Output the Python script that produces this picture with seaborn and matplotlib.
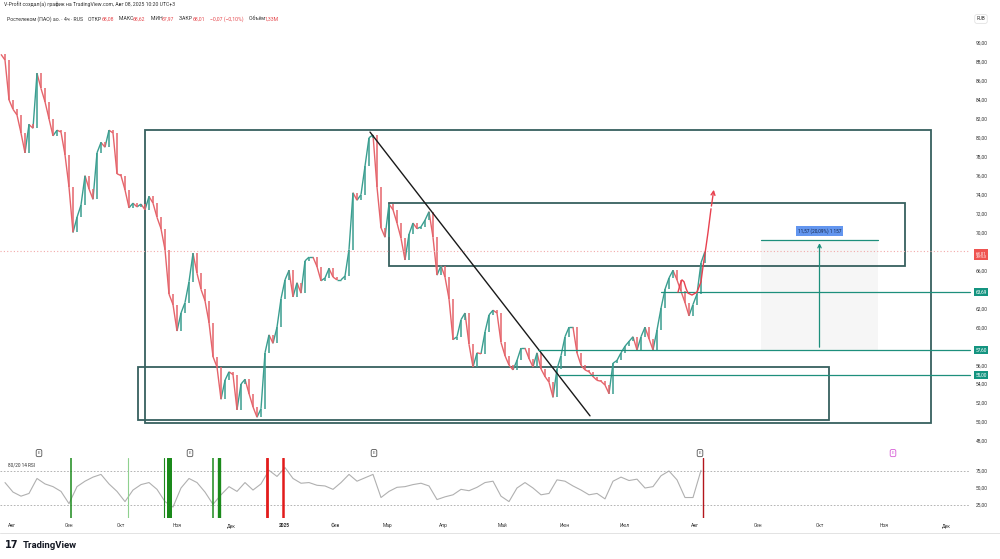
import matplotlib
matplotlib.use("Agg")

import numpy as np
import pandas as pd
import seaborn as sns
import matplotlib.pyplot as plt
import matplotlib.transforms as mtransforms
from matplotlib.patches import Rectangle
from matplotlib.lines import Line2D
from matplotlib.collections import LineCollection

# ---- data (x axis = bar number, one bar ~ 1.5 sessions) ----
close = [
    88.2, 84.0, 83.0, 82.4, 80.5, 78.4, 81.4, 81.0, 86.8, 85.2,
    83.8, 82.0, 80.2, 80.8, 80.6, 78.2, 74.8, 70.0, 71.6, 72.9,
    76.0, 74.6, 73.5, 78.4, 79.5, 79.0, 80.8, 80.5, 76.2, 76.0,
    74.5, 72.6, 73.1, 72.7, 73.0, 72.4, 73.8, 73.1, 71.6, 70.4,
    68.2, 63.5, 62.4, 59.6, 61.5, 62.6, 64.8, 67.8, 65.7, 64.0,
    62.8, 60.5, 56.9, 55.8, 52.4, 54.4, 55.3, 55.0, 51.3, 54.0,
    54.5, 53.0, 51.6, 50.5, 51.4, 57.3, 59.2, 58.3, 60.0, 63.0,
    65.0, 66.0, 63.2, 64.7, 63.6, 67.0, 67.4, 67.4, 66.4, 64.9,
    65.2, 66.2, 65.3, 65.0, 65.0, 65.4, 68.2, 74.2, 73.4, 74.0,
    77.0, 80.0, 80.3, 74.8, 70.5, 69.5, 73.0, 72.4, 71.0, 69.4,
    67.1, 69.8, 71.0, 70.4, 70.6, 71.3, 72.2, 69.5, 65.5, 66.5,
    65.3, 63.0, 58.7, 59.0, 60.8, 61.5, 58.2, 55.8, 57.3, 57.2,
    59.5, 61.3, 61.8, 61.5, 58.4, 57.0, 56.0, 55.5, 56.5, 57.8,
    57.8, 56.7, 55.8, 57.3, 55.6, 54.8, 54.2, 52.6, 55.6, 57.0,
    59.0, 60.0, 60.0, 57.3, 56.0, 55.5, 55.3, 54.8, 54.4, 54.3,
    53.9, 53.0, 56.2, 56.5, 57.3, 58.0, 58.5, 59.0, 57.6, 59.0,
    60.0, 58.8, 57.6, 59.7, 62.0, 64.0, 65.2, 66.0, 65.0, 63.8,
    62.6, 61.2, 62.4, 63.5, 66.8, 68.0,
]
first_open = 88.8

# RSI(14), read every second bar
rsi = [
    58, 44, 38, 42, 64, 56, 52, 45, 27, 52,
    60, 66, 70, 56, 45, 30, 47, 55, 58, 48,
    30, 22, 50, 64, 58, 44, 26, 40, 52, 45,
    58, 47, 56, 76, 67, 80, 64, 57, 58, 54,
    53, 48, 58, 70, 60, 65, 70, 36, 45, 51,
    52, 55, 57, 53, 33, 37, 40, 48, 46, 51,
    58, 60, 38, 30, 50, 58, 50, 40, 42, 62,
    60, 53, 47, 40, 42, 34, 60, 66, 61, 63,
    50, 52, 68, 75, 62, 36, 36, 76,
]

month_pos = [1.75, 16, 29, 43, 56.5, 69.75, 82.5, 95.5, 109.5, 124.5,
             140, 155, 172.5, 188.25, 203.75, 219.75, 235.25]
month_lbl = ["Авг", "Сен", "Окт", "Ноя", "Дек", "2025", "Фев", "Мар", "Апр", "Май",
             "Июн", "Июл", "Авг", "Сен", "Окт", "Ноя", "Дек"]

# RSI 80/20 signal bars
signal_bar = [16.5, 30.75, 39.75, 41.1, 52, 53.6, 65.5, 69.5, 174.5]
signal_kind = ["buy", "buy_light", "buy", "buy", "buy", "buy", "sell", "sell", "sell_last"]

# earnings markers
earn_bar = [8.5, 46.25, 92.25, 173.75, 222]

# drawings
boxes = [  # (bar0, bar1, low, high)
    (35, 231.5, 49.9, 80.8),
    (96, 225, 66.45, 73.1),
    (33.25, 206, 50.2, 55.8),
]
trend = ([91.25, 146.25], [80.6, 50.65])
levels = [63.69, 57.60, 55.00]
level_start = [164, 133.25, 138.75]
last_price = 68.01
measure = (189, 218.25, 57.60, 69.17)
path_bar = [168.25, 168.75, 169.25, 169.75, 170.25, 170.75, 171.75, 173, 174, 174.5,
            175.25, 175.75, 176.5, 177.3]
path_price = [63.7, 64.5, 65.0, 64.8, 64.1, 63.6, 63.4, 63.7, 64.8, 66.4,
              68.5, 70.0, 72.5, 74.8]
price_ticks = list(range(48, 91, 2))
rsi_ticks = [25, 50, 75]

# ---- style ----
sns.set_theme(style="white")
plt.rcParams["font.family"] = ["Roboto", "DejaVu Sans"]

W, H = 1000, 559
GREEN = "#3a9e90"
RED = "#e5646b"
BOX = "#37605f"
TEAL = "#1d8f7c"
TXT = "#333333"


def fx(px):
    return px / W


def fy(py):
    return 1 - py / H


def fmt(v):
    return f"{v:.2f}".replace(".", ",")


fig = plt.figure(figsize=(W / 100, H / 100), dpi=100)
ax = fig.add_axes([0, fy(458), fx(970), (458 - 12) / H])
ax_rsi = fig.add_axes([0, fy(518), fx(970), (518 - 458) / H])

# ---- candles: body from previous close, joined as a thin zig-zag ----
df = pd.DataFrame({"bar": np.arange(len(close)), "close": close})
df["open"] = df["close"].shift(1).fillna(first_open)
df["prev_bar"] = df["bar"] - 1
up = df["close"] >= df["open"]
colors = np.where(up, GREEN, RED)
segs = [[(pb, o), (b, c)] for pb, o, b, c in
        zip(df["prev_bar"], df["open"], df["bar"], df["close"])]
ax.add_collection(LineCollection(segs, colors=colors, lw=1.0))
ax.vlines(df["bar"], df["open"], df["close"], colors=colors, lw=1.1)

# ---- drawings ----
for b0, b1, lo, hi in boxes:
    ax.add_patch(Rectangle((b0, lo), b1 - b0, hi - lo, fill=False, ec=BOX, lw=1.3))
ax.plot(trend[0], trend[1], color="#1a1a1a", lw=1.0)

x_right = 241.25
for lvl, st in zip(levels, level_start):
    ax.plot([st, x_right], [lvl, lvl], color=TEAL, lw=0.9, clip_on=False)
ax.axhline(last_price, color="#f2a9a9", lw=0.8, ls=(0, (1, 2)))

mb0, mb1, mlo, mhi = measure
ax.add_patch(Rectangle((mb0, mlo), mb1 - mb0, mhi - mlo, fc="#f6f6f6", ec="none", zorder=0))
ax.plot([mb0, mb1], [mhi, mhi], color=TEAL, lw=0.9)
mid = (mb0 + mb1) / 2
ax.annotate("", xy=(mid, mhi), xytext=(mid, mlo),
            arrowprops=dict(arrowstyle="->", color=TEAL, lw=0.9, mutation_scale=6))
ax.annotate(f"{fmt(mhi - mlo)} ({fmt((mhi - mlo) / mlo * 100)}%) 1 157",
            xy=(mid, mhi), xytext=(0, 7), textcoords="offset points",
            ha="center", va="center", fontsize=3.4, color="#14264a",
            bbox=dict(boxstyle="square,pad=0.45", fc="#6396ef", ec="none"))

ax.plot(path_bar[:-1], path_price[:-1], color="#e8414f", lw=1.0)
ax.annotate("", xy=(path_bar[-1], path_price[-1]), xytext=(path_bar[-2], path_price[-2]),
            arrowprops=dict(arrowstyle="->", color="#e8414f", lw=1.0, mutation_scale=7))

# earnings "E" markers
etr = mtransforms.blended_transform_factory(ax.transData, ax.transAxes)
for i, b in enumerate(earn_bar):
    c = "#d65cd6" if i == len(earn_bar) - 1 else "#555555"
    ax.text(b, 0.011, "E", transform=etr, ha="center", va="center", fontsize=3.2, color=c,
            bbox=dict(boxstyle="round,pad=0.35", fc="white", ec=c, lw=0.6))

ax.set_xlim(-1.25, x_right)
ax.set_ylim(46.2, 93.27)
ax.yaxis.tick_right()
# tick labels hidden under the coloured price labels
covered = [v for v in price_ticks
           if min(abs(v - p) for p in levels + [last_price]) < 0.8]
ax.set_yticks(price_ticks, ["" if v in covered else fmt(v) for v in price_ticks])
ax.tick_params(axis="y", length=0, pad=4, labelsize=3.5, labelcolor=TXT)
ax.set_xticks([])
for s in ax.spines.values():
    s.set_visible(False)

# right-side price labels
ltr = mtransforms.blended_transform_factory(fig.transFigure, ax.transData)
for lvl in levels:
    ax.text(fx(981), lvl, fmt(lvl), transform=ltr, ha="center",
            va="center", fontsize=3.4, color="white", clip_on=False,
            bbox=dict(boxstyle="square,pad=0.3", fc="#149480", ec="none"))
ax.annotate(fmt(last_price) + "\n39:53", xy=(fx(981), last_price),
            xycoords=ltr, xytext=(0, -2.5), textcoords="offset points", ha="center",
            va="center", fontsize=3.2, color="white", linespacing=1.1, annotation_clip=False,
            bbox=dict(boxstyle="square,pad=0.3", fc="#ef5350", ec="none"))

# ---- RSI panel ----
rsi_df = pd.DataFrame({"bar": np.arange(0, 2 * len(rsi), 2), "rsi": rsi})
sns.lineplot(data=rsi_df, x="bar", y="rsi", ax=ax_rsi, color="#b0b0b0", lw=0.8)
for lv in (75, 25):
    ax_rsi.axhline(lv, color="#a8a8a8", lw=0.6, ls=(0, (2, 2)))

sig_style = {
    "buy": "#1b8a1b",
    "buy_light": "#8fd18f",
    "sell": "#e21b1b",
    "sell_last": "#b3151c",
}
sig_width = [1.1, 0.8, 0.8, 3.6, 1.1, 2.4, 2.0, 1.8, 1.0]
for b, k, w in zip(signal_bar, signal_kind, sig_width):
    ax_rsi.axvline(b, color=sig_style[k], lw=w)

ax_rsi.set_xlim(-1.25, x_right)
ax_rsi.set_ylim(5.9, 94.1)
ax_rsi.yaxis.tick_right()
ax_rsi.set_yticks(rsi_ticks, [fmt(v) for v in rsi_ticks])
ax_rsi.set_xticks(month_pos, month_lbl)
ax_rsi.tick_params(axis="both", length=0, labelsize=3.5, labelcolor=TXT)
ax_rsi.tick_params(axis="y", pad=4)
ax_rsi.tick_params(axis="x", pad=6.5)
for t in ax_rsi.get_xticklabels():
    t.set_va("baseline")
    if t.get_text() == "2025":
        t.set_fontweight("bold")
ax_rsi.set_xlabel("")
ax_rsi.set_ylabel("")
for s in ax_rsi.spines.values():
    s.set_visible(False)
ax_rsi.text(0.008, 0.88, "80/20 14 RSI", transform=ax_rsi.transAxes, fontsize=3.4,
            color=TXT, va="center")

# ---- header / footer ----
renderer = fig.canvas.get_renderer()


def put_row(pieces, x0, y0, size):
    x = x0
    for s, c in pieces:
        t = fig.text(x, y0, s, color=c, fontsize=size, va="center", ha="left")
        bb = t.get_window_extent(renderer=renderer)
        x = bb.x1 / fig.bbox.width


fig.text(fx(4), fy(5), "V-Profit создал(а) график на TradingView.com, Авг 08, 2025 10:20 UTC+3",
         fontsize=3.7, color=TXT, va="center")
R = "#e5484d"
put_row([("Ростелеком (ПАО) ао. · 4ч · RUS    ОТКР", TXT), ("68,08", R), ("    МАКС", TXT),
         ("68,62", R), ("    МИН", TXT), ("67,97", R), ("    ЗАКР", TXT), ("68,01", R),
         ("    −0,07 (−0,10%)", R), ("    Объём", TXT), ("1,33M", R)], fx(7), fy(19), 3.7)
fig.text(fx(981), fy(19), "RUB", fontsize=3.3, color=TXT, ha="center", va="center",
         bbox=dict(boxstyle="round,pad=0.4", fc="white", ec="#dddddd", lw=0.5))

fig.add_artist(Line2D([0, 1], [fy(533), fy(533)], color="#e3e3e3", lw=0.7))
fig.text(fx(5), fy(545), "17", fontsize=7, fontweight="heavy", color="#131722",
         va="center", family="DejaVu Sans")
fig.text(fx(23), fy(545), "TradingView", fontsize=6.8, fontweight="bold", color="#131722",
         va="center")

fig.savefig("out.png", dpi=100)
